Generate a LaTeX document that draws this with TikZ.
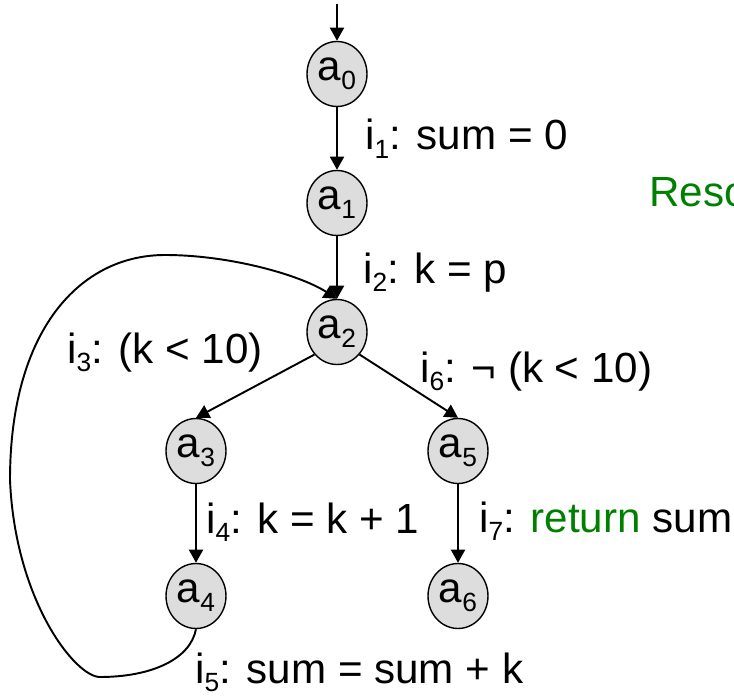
\documentclass[tikz,border=0pt]{standalone}
\usepackage{fontspec}
\setmainfont{Liberation Sans}
\usetikzlibrary{shapes.geometric,arrows.meta}
\definecolor{codegreen}{RGB}{0,128,0}
\definecolor{stategray}{RGB}{221,221,221}
\newcommand{\sbs}[1]{\raisebox{-5pt}{\fontsize{15}{15}\selectfont #1}}
\tikzset{
  state/.style={ellipse, draw=black, line width=0.8pt, fill=stategray,
                minimum width=1.2cm, minimum height=1.3cm, inner sep=0pt,
                font=\fontsize{24}{28}\selectfont},
  trans/.style={-{Triangle[length=7.5pt,width=8pt]}, line width=1.1pt},
  instr/.style={anchor=base west, inner sep=0pt,
                font=\fontsize{24}{28}\selectfont},
}

\begin{document}
\begin{tikzpicture}[x=0.02cm, y=-0.02cm]
  \useasboundingbox (0,0) rectangle (734,696);
  % States
  \node[state] (a0) at (337,74) {a\sbs{0}};
  \node[state] (a1) at (337,203) {a\sbs{1}};
  \node[state] (a2) at (337,332) {a\sbs{2}};
  \node[state] (a3) at (196,451) {a\sbs{3}};
  \node[state] (a4) at (196,596) {a\sbs{4}};
  \node[state] (a5) at (458,451) {a\sbs{5}};
  \node[state] (a6) at (458,596) {a\sbs{6}};
  % Entry
  \coordinate (entry) at (337,4);
  \draw[trans] (entry) -- (a0);
  % Transitions
  \draw[trans] (a0) -- (a1);
  \draw[trans] (a1) -- (a2);
  \draw[trans] (a2.-135) -- (a3.north);
  \draw[trans] (a2.-45) -- (a5.north);
  \draw[trans] (a3) -- (a4);
  \draw[trans] (a5) -- (a6);
  % Back edge of the loop
  \coordinate (lbot) at (100,677);
  \coordinate (lleft) at (10,480);
  \coordinate (ltop) at (165,255);
  \draw[trans] (a4.south) .. controls (190,660) and (150,677) .. (lbot)
    .. controls (75,677) and (15,600) .. (lleft)
    .. controls (10,330) and (80,255) .. (ltop)
    .. controls (230,255) and (300,275) .. (a2.north);
  % Instructions
  \node[instr] (i1) at (365,150) {i\sbs{1}: sum = 0};
  \node[instr] (i2) at (363,283) {i\sbs{2}: k = p};
  \node[instr] (i3) at (67,363) {i\sbs{3}: (k < 10)};
  \node[instr] (i6) at (420,382) {i\sbs{6}: ¬ (k < 10)};
  \node[instr] (i4) at (206,533) {i\sbs{4}: k = k + 1};
  \node[instr] (i7) at (479,532) {i\sbs{7}: \textcolor{codegreen}{return} sum};
  \node[instr] (i5) at (195,683) {i\sbs{5}: sum = sum + k};
  \node[instr, text=codegreen] (reso) at (649,207) {Reso};
\end{tikzpicture}
\end{document}
